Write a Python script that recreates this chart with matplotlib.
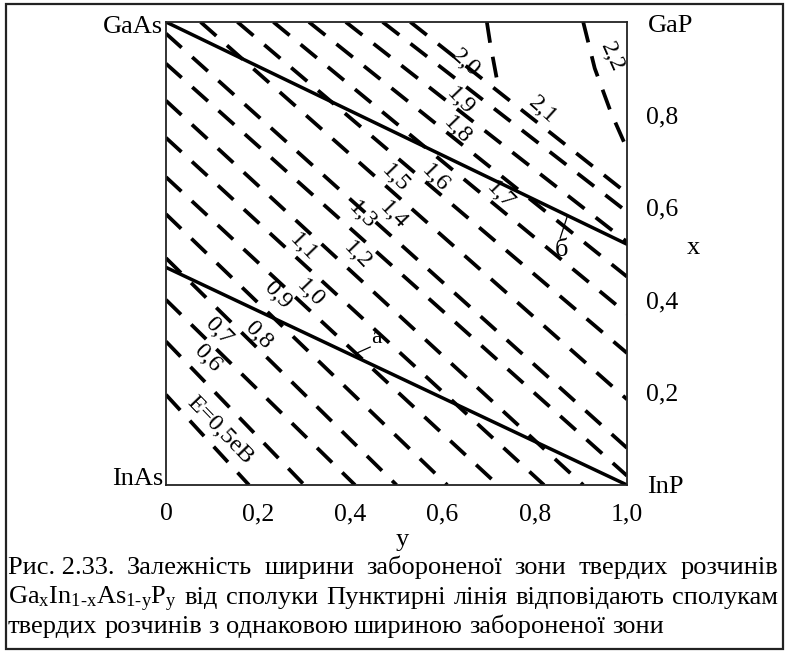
import matplotlib
matplotlib.use("Agg")
import matplotlib.pyplot as plt
from matplotlib.patches import Rectangle

plt.rcParams['font.family'] = ['Liberation Serif', 'DejaVu Serif']
plt.rcParams['mathtext.fontset'] = 'custom'
plt.rcParams['mathtext.rm'] = 'Liberation Serif'
plt.rcParams['mathtext.it'] = 'Liberation Serif:italic'

# ---------------- data (y = P fraction, x = Ga fraction) ----------------
contour_levels = ['0,5', '0,6', '0,7', '0,8', '0,9', '1,0', '1,1', '1,2', '1,3',
                  '1,4', '1,5', '1,6', '1,7', '1,8', '1,9', '2,0', '2,1', '2,1i', '2,2']
contour_y = [
    [0.0, 0.18], [0.0, 0.30], [0.0, 0.41], [0.0, 0.50], [0.0, 0.61],
    [0.0, 0.72], [0.0, 0.82], [0.0, 0.905], [0.0, 1.0], [0.0, 1.0],
    [0.075, 1.0], [0.155, 1.0], [0.233, 1.0], [0.31, 1.0], [0.39, 1.0],
    [0.47, 1.0], [0.53, 1.0], [0.696, 0.703, 0.718, 0.725],
    [0.905, 0.93, 0.965, 1.0],
]
contour_x = [
    [0.195, 0.0], [0.31, 0.0], [0.40, 0.0], [0.49, 0.0], [0.585, 0.0],
    [0.665, 0.0], [0.75, 0.0], [0.83, 0.0], [0.91, 0.02], [0.975, 0.08],
    [1.0, 0.185], [1.0, 0.285], [1.0, 0.37], [1.0, 0.45], [1.0, 0.525],
    [1.0, 0.59], [1.0, 0.63], [1.0, 0.955, 0.875, 0.855],
    [1.0, 0.90, 0.805, 0.726],
]

# solid lattice-matched lines
line_b_y = [0.0, 1.0]
line_b_x = [1.0, 0.52]
line_a_y = [0.0, 1.0]
line_a_x = [0.47, 0.0]

# contour labels and their positions
label_texts = ['E=0,5eB', '0,6', '0,7', '0,8', '0,9', '1,0', '1,1', '1,2', '1,3', '1,4',
               '1,5', '1,6', '1,7', '1,8', '1,9', '2,0', '2,1', '2,2']
label_y = [0.117, 0.089, 0.113, 0.200, 0.241, 0.312, 0.297, 0.414, 0.425, 0.492,
           0.497, 0.585, 0.725, 0.631, 0.638, 0.649, 0.816, 0.967]
label_x = [0.119, 0.274, 0.333, 0.324, 0.410, 0.415, 0.514, 0.497, 0.583, 0.583,
           0.663, 0.663, 0.626, 0.767, 0.829, 0.911, 0.810, 0.924]
label_rot = [-46, -46, -46, -46, -46, -46, -46, -46, -46, -46,
             -46, -46, -46, -46, -46, -42, -42, -66]

xticks = [0.0, 0.2, 0.4, 0.6, 0.8, 1.0]
xtick_labels = ['0', '0,2', '0,4', '0,6', '0,8', '1,0']
yticks = [0.2, 0.4, 0.6, 0.8]
ytick_labels = ['0,2', '0,4', '0,6', '0,8']

caption_lines = [
    ['Рис. 2.33.', 'Залежність', 'ширини', 'забороненої', 'зони', 'твердих', 'розчинів'],
    [r'Ga$_{\mathrm{x}}$In$_{\mathrm{1‐x}}$As$_{\mathrm{1‐y}}$P$_{\mathrm{y}}$', 'від',
     'сполуки', 'Пунктирні', 'лінія', 'відповідають', 'сполукам'],
    ['твердих', 'розчинів', 'з', 'однаковою', 'шириною', 'забороненої', 'зони'],
]

# ---------------- figure ----------------
W, H = 789, 653
fig = plt.figure(figsize=(W / 100, H / 100), dpi=100)
ax = fig.add_axes([166 / W, 1 - 485 / H, 461 / W, 463 / H])
ax.set_xlim(0, 1)
ax.set_ylim(0, 1)

for sp in ax.spines.values():
    sp.set_linewidth(1.3)
    sp.set_color('#222222')

for cy, cx in zip(contour_y, contour_x):
    ax.plot(cy, cx, color='black', lw=2.7, dashes=(5.6, 3.8),
            solid_capstyle='butt', dash_capstyle='butt')

ax.plot(line_b_y, line_b_x, color='black', lw=2.5)
ax.plot(line_a_y, line_a_x, color='black', lw=2.5)

for t, yy, xx, r in zip(label_texts, label_y, label_x, label_rot):
    ax.text(yy, xx, t, rotation=r, ha='center', va='center', fontsize=17.5,
            rotation_mode='anchor')

# 'a' and 'б' markers with leaders
ax.plot([0.414, 0.443], [0.285, 0.298], color='black', lw=0.9)
ax.text(0.446, 0.296, 'a', fontsize=17, ha='left', va='bottom')
ax.plot([0.870, 0.855], [0.579, 0.533], color='black', lw=0.9)
ax.text(0.857, 0.532, 'б', fontsize=19, ha='center', va='top')

# ticks
ax.set_xticks(xticks)
ax.set_xticklabels(xtick_labels, fontsize=18.5)
ax.set_yticks(yticks)
ax.set_yticklabels(ytick_labels, fontsize=18.5)
ax.tick_params(axis='x', length=0, pad=13)
ax.tick_params(axis='y', length=0, pad=14, left=False, labelleft=False,
               right=False, labelright=True)

# corner labels
ax.text(-0.006, 0.976, 'GaAs', transform=ax.transAxes, ha='right', va='baseline', fontsize=19)
ax.text(-0.006, 0.0, 'InAs', transform=ax.transAxes, ha='right', va='baseline', fontsize=19)
ax.text(1.045, 0.978, 'GaP', transform=ax.transAxes, ha='left', va='baseline', fontsize=19)
ax.text(1.043, -0.017, 'InP', transform=ax.transAxes, ha='left', va='baseline', fontsize=19)

# axis names
fig.text(693 / W, 1 - 248 / H, 'x', ha='center', va='center', fontsize=19)
fig.text(402 / W, 1 - 540 / H, 'y', ha='center', va='center', fontsize=19)

# figure frame
fig.patches.append(Rectangle((6 / W, 4 / H), 777 / W, 645 / H, transform=fig.transFigure,
                             fill=False, lw=1.6, edgecolor='#222222'))

# ---------------- caption (justified) ----------------
fig.canvas.draw()
rend = fig.canvas.get_renderer()


def measure(s, fs):
    t = fig.text(0, 0, s, fontsize=fs)
    w = t.get_window_extent(rend).width
    t.remove()
    return w


fs0 = 10.0
w1 = measure(' '.join(caption_lines[0]), fs0)
fs = fs0 * 738 / w1

x_left, x_right = 8, 778
baselines = [574, 604, 633]
for i, words in enumerate(caption_lines):
    ws = [measure(wd, fs) for wd in words]
    if i < 2:
        gap = (x_right - x_left - sum(ws)) / (len(words) - 1)
    else:
        gap = measure('a b', fs) - measure('ab', fs)
    x = x_left
    for wd, wdw in zip(words, ws):
        fig.text(x / W, 1 - baselines[i] / H, wd, fontsize=fs, ha='left', va='baseline')
        x += wdw + gap

fig.savefig('out.png', dpi=100)
